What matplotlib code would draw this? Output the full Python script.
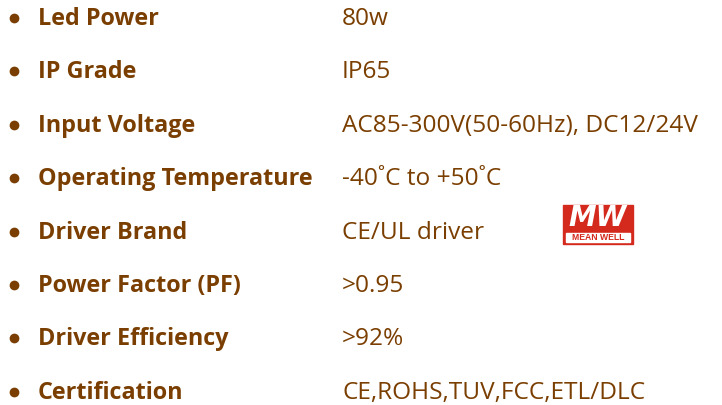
import matplotlib.pyplot as plt
from matplotlib.patches import Rectangle

labels = ["Led Power", "IP Grade", "Input Voltage", "Operating Temperature",
          "Driver Brand", "Power Factor (PF)", "Driver Efficiency", "Certification"]
values = ["80w", "IP65", "AC85-300V(50-60Hz), DC12/24V", "-40˚C to +50˚C",
          "CE/UL driver", ">0.95", ">92%", "CE,ROHS,TUV,FCC,ETL/DLC"]

brown = "#7a3e00"
W, H = 722, 405

fig = plt.figure(figsize=(W / 100, H / 100), dpi=100)
ax = fig.add_axes([0, 0, 1, 1])
ax.set_xlim(0, W)
ax.set_ylim(H, 0)
ax.axis("off")

first_base = 25
step = 53.4
for i, (lab, val) in enumerate(zip(labels, values)):
    yb = first_base + i * step
    ax.plot(14, yb - 7, "o", color=brown, markersize=6)
    ax.text(38, yb, lab, fontsize=16.8, fontweight="bold", family="Open Sans",
            color=brown, va="baseline", ha="left")
    ax.text(342, yb, val, fontsize=17.6, family="Open Sans",
            color=brown, va="baseline", ha="left")

# MEAN WELL logo
red = "#d42a1e"
ax.add_patch(Rectangle((563, 205), 70, 39, color=red, zorder=3))
ax.add_patch(Rectangle((566, 232.5), 64, 9.5, color="white", zorder=4))
ax.text(598, 231.8, "MW", fontsize=20, fontweight="bold", style="italic",
        family="DejaVu Sans", color="white", ha="center", va="bottom", zorder=5)
ax.text(598, 237.3, "MEAN WELL", fontsize=6.2, fontweight="bold",
        family="Liberation Sans", color=red, ha="center", va="center", zorder=5)

fig.savefig("out.png", dpi=100)
